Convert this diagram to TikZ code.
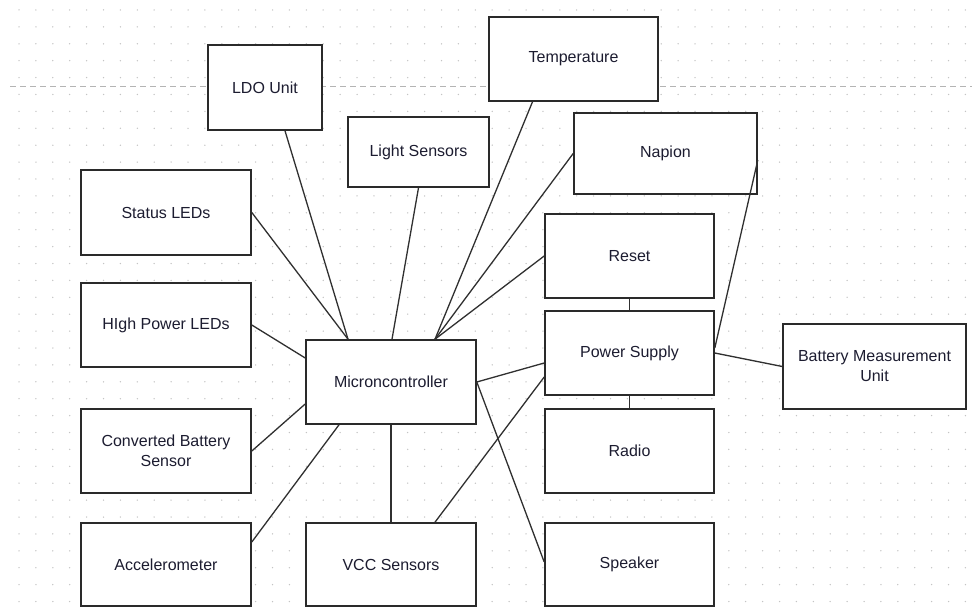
\documentclass[tikz,border=0pt]{standalone}
\usepackage{fontspec}
\setmainfont{Liberation Sans}
\begin{document}
\begin{tikzpicture}[x=1pt,y=-1pt,
  blk/.style={draw=boxline, line width=1.6pt, fill=white, inner sep=2pt,
    align=center, font=\fontsize{16}{20}\selectfont, text=labeltext},
  link/.style={draw=wire, line width=1.3pt},
  griddot/.style={fill=dotgray}]
\definecolor{boxline}{HTML}{2A2A2A}
\definecolor{wire}{HTML}{303030}
\definecolor{dotgray}{HTML}{C4C4C4}
\definecolor{guide}{HTML}{B4B4B4}
\definecolor{labeltext}{HTML}{1C1C30}
\useasboundingbox (0,0) rectangle (972,615);
\fill[white] (0,0) rectangle (972,615);
% dotted drawing grid
\foreach \i in {0,...,56}{
  \foreach \j in {0,...,35}{
    \fill[griddot] ({19+16.9*\i},{10+16.9*\j}) circle (0.75);
  }
}
% horizontal page guide
\draw[guide, line width=0.8pt, dash pattern=on 6pt off 4pt] (10,86) -- (972,86);

% blocks
\node[blk, minimum width=114, minimum height=85] (ldo) at (265,87.5) {LDO Unit};
\node[blk, minimum width=169, minimum height=84] (temp) at (573.5,59) {Temperature};
\node[blk, minimum width=141, minimum height=70] (light) at (418.5,152) {Light Sensors};
\node[blk, minimum width=183, minimum height=81] (napion) at (665.5,153.5) {Napion};
\node[blk, minimum width=170, minimum height=85] (status) at (166,212.5) {Status LEDs};
\node[blk, minimum width=170, minimum height=84] (hpled) at (166,325) {HIgh Power LEDs};
\node[blk, minimum width=170, minimum height=84] (conv) at (166,451) {Converted Battery\\Sensor};
\node[blk, minimum width=170, minimum height=83] (accel) at (166,564.5) {Accelerometer};
\node[blk, minimum width=170, minimum height=84] (mcu) at (391,382) {Microncontroller};
\node[blk, minimum width=170, minimum height=83] (vcc) at (391,564.5) {VCC Sensors};
\node[blk, minimum width=169, minimum height=84] (reset) at (629.5,256) {Reset};
\node[blk, minimum width=169, minimum height=84] (power) at (629.5,353) {Power Supply};
\node[blk, minimum width=169, minimum height=84] (radio) at (629.5,451) {Radio};
\node[blk, minimum width=169, minimum height=83] (speaker) at (629.5,564.5) {Speaker};
\node[blk, minimum width=183, minimum height=85] (bmu) at (874.5,366.5) {Battery Measurement\\Unit};

% connections to the microcontroller
\draw[link] ([xshift=20pt]ldo.south) -- ([xshift=-43pt]mcu.north);
\draw[link] (status.east) -- ([xshift=-43pt]mcu.north);
\draw[link] (hpled.east) -- ([yshift=24pt]mcu.west);
\draw[link] (conv.east) -- ([yshift=-22pt]mcu.west);
\draw[link] ([yshift=22.5pt]accel.east) -- ([xshift=-52pt]mcu.south);
\draw[link] (light.south) -- ([xshift=1pt]mcu.north);
\draw[link] ([xshift=-41pt]temp.south) -- ([xshift=44pt]mcu.north);
\draw[link] (napion.west) -- ([xshift=44pt]mcu.north);
\draw[link] (reset.west) -- ([xshift=44pt]mcu.north);
\draw[link] (mcu.east) -- ([yshift=-10pt]power.west);
\draw[link] (mcu.east) -- ([yshift=2.5pt]speaker.west);
\draw[link, line width=1.6pt] (vcc.north) -- (mcu.south);
\draw[link] ([xshift=44pt]vcc.north) -- ([yshift=-24pt]power.west);

% power distribution
\draw[link, line width=1.6pt] (reset.south) -- (power.north);
\draw[link, line width=1.6pt] (power.south) -- (radio.north);
\draw[link] ([yshift=-6.5pt]napion.east) -- ([yshift=5pt]power.east);
\draw[link] (power.east) -- (bmu.west);
\end{tikzpicture}
\end{document}
